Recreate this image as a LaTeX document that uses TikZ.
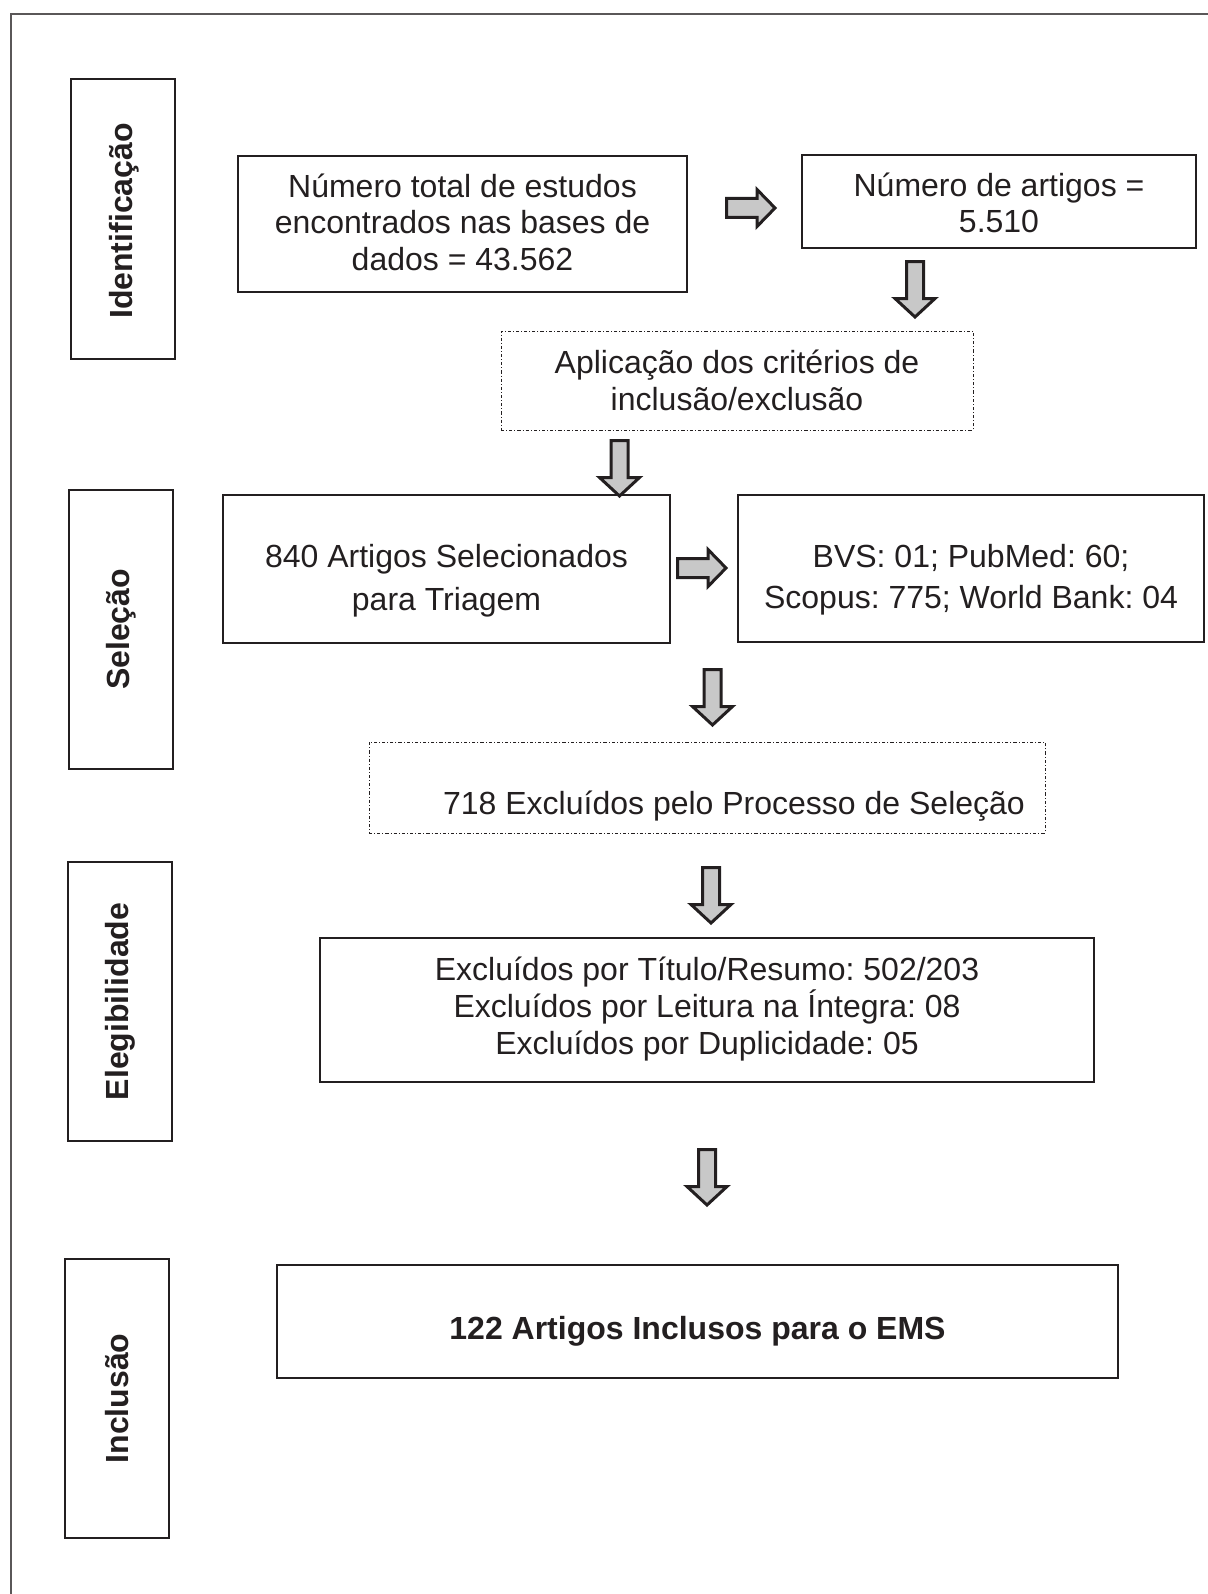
\documentclass[tikz,border=0pt]{standalone}
\usepackage{fontspec}
\setmainfont{Liberation Sans}
\frenchspacing
\definecolor{ink}{HTML}{231F20}
\definecolor{arrfill}{HTML}{C8C8C8}
\begin{document}
\begin{tikzpicture}[x=0.5pt,y=-0.5pt,
  box/.style={draw=ink, line width=0.7pt, inner sep=0pt, text=ink, align=center, font=\fontsize{16}{18.3}\selectfont},
  dbox/.style={box, line width=0.45pt, dash pattern=on 1.6pt off 1pt on 0.5pt off 1pt},
  thickbox/.style={box, line width=1.4pt},
  txt/.style={text=ink, align=center, inner sep=0pt, font=\fontsize{16}{18.3}\selectfont},
  sidebox/.style={draw=ink, line width=0.7pt, inner sep=0pt, minimum width=52pt, minimum height=140pt},
  sidelabel/.style={rotate=90, text=ink, font=\fontsize{16}{18}\selectfont\bfseries},
  arrowst/.style={draw=ink, fill=arrfill, line width=1.5pt, miter limit=10},
  darrow/.pic={\draw[arrowst] (-8.5,1.5) -- (8.5,1.5) -- (8.5,38.5) -- (20,38.5) -- (0,57) -- (-20,38.5) -- (-8.5,38.5) -- cycle;},
  rarrow/.pic={\draw[arrowst] (1.5,-9.5) -- (1.5,9.5) -- (32,9.5) -- (32,18.5) -- (50,0) -- (32,-18.5) -- (32,-9.5) -- cycle;}
]
\useasboundingbox (0,0) rectangle (1208,1594);
% outer frame (left and top only)
\draw[draw=ink!75, line width=0.8pt] (11,1594) -- (11,14) -- (1208,14);

% side boxes
\node[sidebox] (s1) at (123,219) {};
\node[sidelabel] (l1) at (124,221) {Identificação};
\node[sidebox, minimum height=139.5pt] (s2) at (121,629.5) {};
\node[sidelabel] (l2) at (s2.center) {Seleção};
\node[sidebox, minimum height=139.5pt] (s3) at (120,1001.5) {};
\node[sidelabel] (l3) at (s3.center) {Elegibilidade};
\node[sidebox, minimum height=139.5pt] (s4) at (117,1398.5) {};
\node[sidelabel] (l4) at (s4.center) {Inclusão};

% main boxes
\node[box, minimum width=224.5pt, minimum height=68pt] (a) at (462.5,224) {};
\node[txt] (at) at (462.5,222) {Número total de estudos\\encontrados nas bases de\\dados = 43.562};
\node[box, minimum width=197pt, minimum height=46.5pt] (b) at (999,201.5) {};
\node[txt] (bt) at (999,203) {Número de artigos =\\5.510};
\node[dbox, minimum width=236pt, minimum height=49.5pt] (c) at (737,380.5)
  {Aplicação dos critérios de\\inclusão/exclusão};
\node[box, minimum width=223.5pt, minimum height=74pt] (d) at (446.5,569) {};
\node[txt, font=\fontsize{16}{21.5}\selectfont] (dt) at (446.5,581) {840 Artigos Selecionados\\para Triagem};
\node[box, minimum width=233pt, minimum height=73.5pt] (e) at (971,568.5) {};
\node[txt, font=\fontsize{16}{20.5}\selectfont] (et) at (971,580) {BVS: 01; PubMed: 60;\\Scopus: 775; World Bank: 04};
\node[dbox, minimum width=338pt, minimum height=45.5pt] (f) at (707,787.5) {};
\node[txt] (ft) at (734,806) {718 Excluídos pelo Processo de Seleção};
\node[box, minimum width=387pt, minimum height=72pt] (g) at (707,1010) {};
\node[txt] (gt) at (707,1009) {Excluídos por Título/Resumo: 502/203\\Excluídos por Leitura na Íntegra: 08\\Excluídos por Duplicidade: 05};
\node[thickbox, minimum width=420.5pt, minimum height=56.5pt] (h) at (697.5,1321.5) {};
\node[txt, font=\fontsize{16}{18}\selectfont\bfseries] (ht) at (697.5,1331) {122 Artigos Inclusos para o EMS};

% block arrows
\coordinate (r1) at (725,208);
\coordinate (r2) at (676,568);
\pic at (r1) {rarrow};
\pic at (r2) {rarrow};
\coordinate (d1) at (915,260);
\coordinate (d2) at (619.5,439);
\coordinate (d3) at (712.5,668);
\coordinate (d4) at (711,866);
\coordinate (d5) at (707,1148);
\pic at (d1) {darrow};
\pic at (d2) {darrow};
\pic at (d3) {darrow};
\pic at (d4) {darrow};
\pic at (d5) {darrow};
\end{tikzpicture}
\end{document}
